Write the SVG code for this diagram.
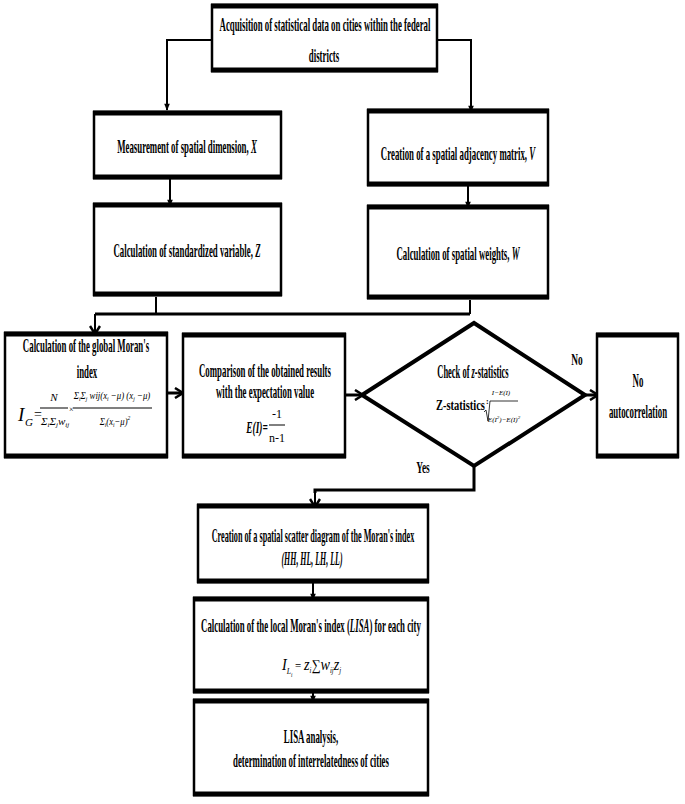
<svg xmlns="http://www.w3.org/2000/svg" width="685" height="804" viewBox="0 0 685 804">
<style>
text{font-family:"Liberation Serif","Times New Roman",serif;font-weight:bold;fill:#000}
.t{font-size:18px;text-anchor:middle}
.i{font-style:italic}
.m{font-weight:normal;font-style:italic}
.box{fill:#fff;stroke:#000;stroke-width:2.5}
.edge{stroke:#000;stroke-width:5}
.c{fill:none;stroke:#000;stroke-width:2}
.ch{fill:none;stroke:#000;stroke-width:3}
.dia{fill:#fff;stroke:#000;stroke-width:4;stroke-linejoin:miter}
.bar{stroke:#000;stroke-width:1}
</style>
<defs>
<marker id="tri" viewBox="0 0 10 10" refX="9" refY="5" markerWidth="8" markerHeight="7" markerUnits="userSpaceOnUse" orient="auto">
<path d="M0,1 L10,5 L0,9 Z" fill="#000"/>
</marker>
<marker id="chev" viewBox="0 0 12 12" refX="10" refY="6" markerWidth="12" markerHeight="12" markerUnits="userSpaceOnUse" orient="auto">
<path d="M2,1 L10,6 L2,11" fill="none" stroke="#000" stroke-width="2.5"/>
</marker>
</defs>

<g id="connectors">
<path class="c" d="M212,40 H167 V110" marker-end="url(#tri)"/>
<path class="c" d="M437,40 H471 V112" marker-end="url(#tri)"/>
<path class="c" d="M170,178 V206" marker-end="url(#tri)"/>
<path class="c" d="M468,185 V208" marker-end="url(#tri)"/>
<path class="c" d="M156,297 V314"/>
<path class="c" d="M470,300 V314"/>
<path class="ch" d="M95,314 H470"/>
<path class="c" d="M95,314 V334" marker-end="url(#chev)"/>
<path class="ch" d="M167,393 H183" marker-end="url(#chev)"/>
<path class="ch" d="M345,395 H363" marker-end="url(#chev)"/>
<path class="ch" d="M585,395 H598" marker-end="url(#chev)"/>
<path class="ch" d="M474,466 V490 H315 V493"/>
<path class="c" d="M315,490 V507" marker-end="url(#chev)"/>
<path class="c" d="M313,582 V600" marker-end="url(#tri)"/>
<path class="c" d="M313,692 V702" marker-end="url(#tri)"/>
<text class="t" x="577" y="365" style="font-size:17px" transform="matrix(.55 0 0 1 259.65 0)">No</text>
<text class="t" x="423" y="473" style="font-size:17px" transform="matrix(.55 0 0 1 190.35 0)">Yes</text>
</g>

<g id="n-acquisition">
<rect class="box" x="212" y="5" width="225" height="66"/>
<line class="edge" x1="211" y1="6" x2="438" y2="6"/>
<line class="edge" x1="211" y1="70" x2="438" y2="70"/>
<text class="t" x="325" y="31" transform="matrix(.49 0 0 1 165.75 0)">Acquisition of statistical data on cities within the federal</text>
<text class="t" x="324" y="62" transform="matrix(.49 0 0 1 165.24 0)">districts</text>
</g>

<g id="n-measure">
<rect class="box" x="94" y="112" width="187" height="66"/>
<line class="edge" x1="93" y1="113" x2="282" y2="113"/>
<line class="edge" x1="93" y1="177" x2="282" y2="177"/>
<text class="t" x="187" y="153" transform="matrix(.49 0 0 1 95.37 0)">Measurement of spatial dimension, <tspan class="i">X</tspan></text>
</g>

<g id="n-standard">
<rect class="box" x="94" y="204" width="187" height="91"/>
<line class="edge" x1="93" y1="205" x2="282" y2="205"/>
<line class="edge" x1="93" y1="294" x2="282" y2="294"/>
<text class="t" x="187" y="257" transform="matrix(.49 0 0 1 95.37 0)">Calculation of standardized variable, <tspan class="i">Z</tspan></text>
</g>

<g id="n-adjacency">
<rect class="box" x="368" y="110" width="180" height="75"/>
<line class="edge" x1="367" y1="111" x2="549" y2="111"/>
<line class="edge" x1="367" y1="184" x2="549" y2="184"/>
<text class="t" x="458" y="160" transform="matrix(.49 0 0 1 233.58 0)">Creation of a spatial adjacency matrix, <tspan class="i">V</tspan></text>
</g>

<g id="n-weights">
<rect class="box" x="368" y="206" width="180" height="92"/>
<line class="edge" x1="367" y1="207" x2="549" y2="207"/>
<line class="edge" x1="367" y1="297" x2="549" y2="297"/>
<text class="t" x="458" y="260" transform="matrix(.49 0 0 1 233.58 0)">Calculation of spatial weights, <tspan class="i">W</tspan></text>
</g>

<g id="n-global-moran">
<rect class="box" x="5" y="333" width="162" height="124"/>
<line class="edge" x1="4" y1="334" x2="168" y2="334"/>
<line class="edge" x1="4" y1="456" x2="168" y2="456"/>
<text class="t" x="86" y="352" transform="matrix(.49 0 0 1 43.86 0)">Calculation of the global Moran's</text>
<text class="t" x="87" y="378" transform="matrix(.49 0 0 1 44.37 0)">index</text>
<text class="m" x="18" y="421" style="font-size:19px">I</text>
<text class="m" x="25" y="426" style="font-size:11px">G</text>
<text x="34" y="419" style="font-size:14px;font-weight:normal">=</text>
<text class="m" x="54" y="401" style="font-size:11px;text-anchor:middle">N</text>
<line class="bar" x1="40" y1="408" x2="68" y2="408"/>
<text class="m" x="55" y="425" style="font-size:11px;text-anchor:middle">Σ<tspan dy="2" style="font-size:7px">i</tspan><tspan dy="-2">Σ</tspan><tspan dy="2" style="font-size:7px">j</tspan><tspan dy="-2">w</tspan><tspan dy="2" style="font-size:7px">ij</tspan></text>
<text x="69" y="412" style="font-size:8px;font-weight:normal">×</text>
<line class="bar" x1="73" y1="408" x2="152" y2="408"/>
<text class="m" x="112" y="399" style="font-size:11px;text-anchor:middle" transform="matrix(.8 0 0 1 22.4 0)">Σ<tspan dy="2" style="font-size:7px">i</tspan><tspan dy="-2">Σ</tspan><tspan dy="2" style="font-size:7px">j</tspan><tspan dy="-2"> wij(x</tspan><tspan dy="2" style="font-size:7px">i</tspan><tspan dy="-2"> −μ)  (x</tspan><tspan dy="2" style="font-size:7px">j</tspan><tspan dy="-2"> −μ)</tspan></text>
<text class="m" x="115" y="425" style="font-size:11px;text-anchor:middle" transform="matrix(.78 0 0 1 25.3 0)">Σ<tspan dy="2" style="font-size:7px">i</tspan><tspan dy="-2">(x</tspan><tspan dy="2" style="font-size:7px">i</tspan><tspan dy="-2">−μ)</tspan><tspan dy="-5" style="font-size:7px">2</tspan></text>
</g>

<g id="n-comparison">
<rect class="box" x="183" y="334" width="162" height="123"/>
<line class="edge" x1="182" y1="335" x2="346" y2="335"/>
<line class="edge" x1="182" y1="456" x2="346" y2="456"/>
<text class="t" x="265" y="377" transform="matrix(.49 0 0 1 135.15 0)">Comparison of the obtained results</text>
<text class="t" x="265" y="398" transform="matrix(.49 0 0 1 135.15 0)">with the expectation value</text>
<text class="t i" x="257" y="433" style="font-size:17px" transform="matrix(.55 0 0 1 115.65 0)">E(I)=</text>
<text x="277" y="418" style="font-size:12px;text-anchor:middle;font-weight:normal">-1</text>
<line class="bar" x1="269" y1="425" x2="285" y2="425"/>
<text x="277" y="442" style="font-size:12px;text-anchor:middle;font-weight:normal">n-1</text>
</g>

<g id="n-zcheck">
<polygon class="dia" points="362,395 474,323 585,395 474,466"/>
<text class="t" x="473" y="378" transform="matrix(.47 0 0 1 250.69 0)">Check of <tspan class="i">z</tspan>-statistics</text>
<text x="436" y="410" style="font-size:14px" transform="matrix(.75 0 0 1 109 0)">Z-statistics</text>
<text x="486" y="404" style="font-size:8px">:</text>
<text class="m" x="501" y="395" style="font-size:7px;text-anchor:middle">I−E(I)</text>
<path d="M484,412 L486,410 L488,421 L490,401 H518" fill="none" stroke="#000" stroke-width="0.8"/>
<text class="m" x="504" y="422" style="font-size:7px;text-anchor:middle">E(I<tspan dy="-3" style="font-size:5px">2</tspan><tspan dy="3">)−E(I)</tspan><tspan dy="-3" style="font-size:5px">2</tspan></text>
</g>

<g id="n-noauto">
<rect class="box" x="597" y="334" width="81" height="123"/>
<line class="edge" x1="596" y1="335" x2="679" y2="335"/>
<line class="edge" x1="596" y1="456" x2="679" y2="456"/>
<text class="t" x="638" y="387" transform="matrix(.49 0 0 1 325.38 0)">No</text>
<text class="t" x="638" y="418" transform="matrix(.49 0 0 1 325.38 0)">autocorrelation</text>
</g>

<g id="n-scatter">
<rect class="box" x="198" y="505" width="230" height="77"/>
<line class="edge" x1="197" y1="506" x2="429" y2="506"/>
<line class="edge" x1="197" y1="581" x2="429" y2="581"/>
<text class="t" x="313" y="542" transform="matrix(.455 0 0 1 170.6 0)">Creation of a spatial scatter diagram of the Moran's index</text>
<text class="t i" x="312" y="565" transform="matrix(.44 0 0 1 174.72 0)">(HH, HL, LH, LL)</text>
</g>

<g id="n-local">
<rect class="box" x="194" y="598" width="234" height="94"/>
<line class="edge" x1="193" y1="599" x2="429" y2="599"/>
<line class="edge" x1="193" y1="691" x2="429" y2="691"/>
<text class="t" x="311" y="632" transform="matrix(.49 0 0 1 158.61 0)">Calculation of the local Moran's index (<tspan class="i">LISA</tspan>) for each city</text>
<text class="m" x="282" y="670" style="font-size:17px" transform="matrix(.84 0 0 1 45.12 0)">I<tspan dy="4" style="font-size:9px">L</tspan><tspan dy="3" style="font-size:6px">i</tspan><tspan dy="-7" style="font-style:normal;font-size:13px"> = </tspan>z<tspan dy="3" style="font-size:8px">i</tspan><tspan dy="-3" style="font-style:normal;font-size:15px">∑</tspan>w<tspan dy="3" style="font-size:8px">ij</tspan><tspan dy="-3">z</tspan><tspan dy="3" style="font-size:8px">j</tspan></text>
</g>

<g id="n-lisa">
<rect class="box" x="194" y="700" width="234" height="95"/>
<line class="edge" x1="193" y1="701" x2="429" y2="701"/>
<line class="edge" x1="193" y1="794" x2="429" y2="794"/>
<text class="t" x="311" y="743" transform="matrix(.49 0 0 1 158.61 0)">LISA analysis,</text>
<text class="t" x="311" y="767" transform="matrix(.49 0 0 1 158.61 0)">determination of interrelatedness of cities</text>
</g>
</svg>
